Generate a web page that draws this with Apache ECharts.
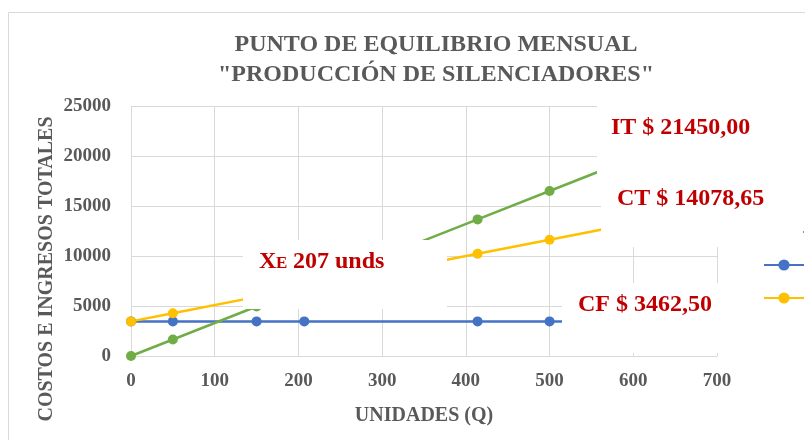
<!DOCTYPE html>
<html>
<head>
<meta charset="utf-8">
<script src="https://cdn.jsdelivr.net/npm/echarts@6/dist/echarts.min.js"></script>
<style>html,body{margin:0;padding:0;background:#fff;}#c{width:805px;height:440px;}</style>
</head>
<body>
<div id="c"></div>
<script>
var units = [0, 50, 150, 207, 414, 500, 650];
var cf = [3462.5, 3462.5, 3462.5, 3462.5, 3462.5, 3462.5, 3462.5];
var ct = [3462.5, 4279.1, 5912.3, 6843.2, 10223.9, 11628.4, 14078.65];
var it = [0, 1650, 4950, 6831, 13662, 16500, 21450];
var xTicks = [0, 100, 200, 300, 400, 500, 600, 700];
var yTicks = [0, 5000, 10000, 15000, 20000, 25000];

function pairs(ys) { return units.map(function (u, i) { return [u, ys[i]]; }); }

var serif = '"Liberation Serif", "Times New Roman", serif';
var red = '#C00000';
var grey = '#595959';
var chart = echarts.init(document.getElementById('c'));
chart.setOption({
  animation: false,
  title: {
    text: 'PUNTO DE EQUILIBRIO MENSUAL\n"PRODUCCIÓN DE SILENCIADORES"',
    left: 431, top: 25, textAlign: 'center',
    textStyle: { fontFamily: serif, fontWeight: 'bold', fontSize: 24, color: grey, lineHeight: 30 }
  },
  legend: {
    orient: 'vertical', left: 763, top: 225, padding: 0, itemWidth: 40, itemHeight: 14, itemGap: 19,
    data: ['IT', 'CF', 'CT'],
    textStyle: { fontFamily: serif, fontSize: 12, lineHeight: 14, color: grey }
  },
  grid: { left: 131, right: 88, top: 106, bottom: 84 },
  xAxis: {
    type: 'value', min: xTicks[0], max: xTicks[xTicks.length - 1], interval: 100,
    name: 'UNIDADES (Q)', nameLocation: 'middle', nameGap: 50,
    nameTextStyle: { fontFamily: serif, fontWeight: 'bold', fontSize: 20, color: grey },
    axisLine: { show: true, lineStyle: { color: '#d9d9d9', width: 1 } },
    axisTick: { show: false },
    axisLabel: { fontFamily: serif, fontWeight: 'bold', fontSize: 19, color: grey, margin: 16 },
    splitLine: { show: true, lineStyle: { color: '#d9d9d9', width: 1 } }
  },
  yAxis: {
    type: 'value', min: yTicks[0], max: yTicks[yTicks.length - 1], interval: 5000,
    axisLine: { show: false }, axisTick: { show: false },
    axisLabel: { fontFamily: serif, fontWeight: 'bold', fontSize: 19, color: grey, margin: 20,
      formatter: function (v) { return String(v); } },
    splitLine: { show: true, lineStyle: { color: '#d9d9d9', width: 1 } }
  },
  series: [
    { name: 'CF', type: 'line', data: pairs(cf), symbol: 'circle', symbolSize: 10,
      itemStyle: { color: '#4472C4' }, lineStyle: { color: '#4472C4', width: 2.5 } },
    { name: 'CT', type: 'line', data: pairs(ct), symbol: 'circle', symbolSize: 10,
      itemStyle: { color: '#FFC000' }, lineStyle: { color: '#FFC000', width: 2.5 } },
    { name: 'IT', type: 'line', data: pairs(it), symbol: 'circle', symbolSize: 10,
      itemStyle: { color: '#70AD47' }, lineStyle: { color: '#70AD47', width: 2.5 } }
  ],
  graphic: [
    { type: 'rect', z: 1, silent: true, shape: { x: 8.5, y: 12.5, width: 900, height: 600 },
      style: { fill: 'none', stroke: '#d9d9d9', lineWidth: 1 } },
    { type: 'text', z: 5, x: 47, y: 269, rotation: Math.PI / 2,
      style: { text: 'COSTOS E INGRESOS TOTALES', fill: grey, font: 'bold 20px ' + serif,
        textAlign: 'center', textVerticalAlign: 'middle' } },
    { type: 'rect', z: 100, shape: { x: 597, y: 98, width: 210, height: 80 }, style: { fill: '#fff' } },
    { type: 'rect', z: 100, shape: { x: 601, y: 177, width: 202, height: 70 }, style: { fill: '#fff' } },
    { type: 'rect', z: 100, shape: { x: 243, y: 240, width: 204, height: 69 }, style: { fill: '#fff' } },
    { type: 'rect', z: 100, shape: { x: 562, y: 283, width: 158, height: 70 }, style: { fill: '#fff' } },
    { type: 'text', z: 101, left: 611, top: 116,
      style: { text: 'IT $ 21450,00', fill: red, font: 'bold 24px ' + serif } },
    { type: 'text', z: 101, left: 617, top: 187,
      style: { text: 'CT $ 14078,65', fill: red, font: 'bold 24px ' + serif } },
    { type: 'text', z: 101, left: 578, top: 293,
      style: { text: 'CF $ 3462,50', fill: red, font: 'bold 24px ' + serif } },
    { type: 'text', z: 101, left: 259, top: 250,
      style: { text: 'X', fill: red, font: 'bold 24px ' + serif } },
    { type: 'text', z: 101, left: 276, top: 255,
      style: { text: 'E', fill: red, font: 'bold 17px ' + serif } },
    { type: 'text', z: 101, left: 293, top: 250,
      style: { text: '207 unds', fill: red, font: 'bold 24px ' + serif } }
  ]
});
</script>
</body>
</html>
